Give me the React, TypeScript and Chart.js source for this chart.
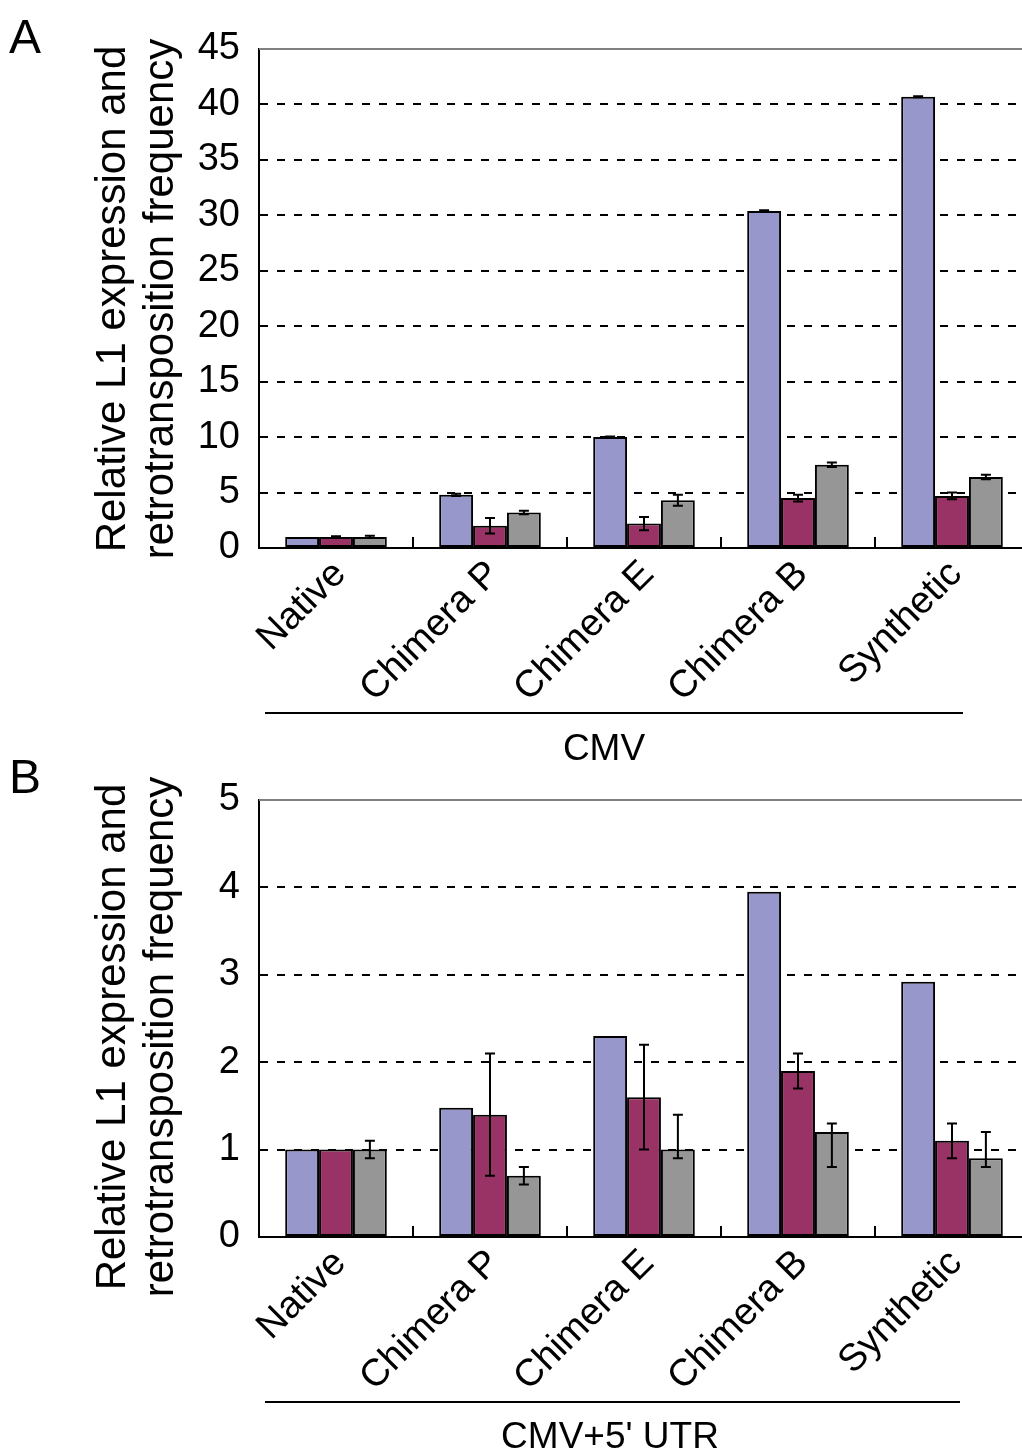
import React, { useEffect, useRef } from "react";
import { Chart, registerables } from "chart.js";

Chart.register(...registerables);

const FONT = "'Liberation Sans', Arial, Helvetica, sans-serif";

// ---------- data ----------
const categories = ["Native", "Chimera P", "Chimera E", "Chimera B", "Synthetic"];
const seriesLabels = ["Series 1", "Series 2", "Series 3"];
const seriesColors = ["#9797CB", "#993366", "#969696"];

// Panel A (CMV)
const aBlue = [1, 4.8, 10, 30.4, 40.7];
const aRed = [1, 2.0, 2.2, 4.5, 4.7];
const aGray = [1, 3.2, 4.3, 7.5, 6.4];
const aBlueErr = [0, 0.1, 0.05, 0.05, 0.05];
const aRedErr = [0.05, 0.7, 0.6, 0.3, 0.3];
const aGrayErr = [0.1, 0.15, 0.5, 0.2, 0.2];
const aTicks = [0, 5, 10, 15, 20, 25, 30, 35, 40, 45];

// Panel B (CMV+5' UTR)
const bBlue = [1, 1.48, 2.3, 3.95, 2.92];
const bRed = [1, 1.4, 1.6, 1.9, 1.1];
const bGray = [1, 0.7, 1.0, 1.2, 0.9];
const bBlueErrPlus = [0, 0, 0, 0, 0];
const bBlueErrMinus = [0, 0, 0, 0, 0];
const bRedErrPlus = [0, 0.7, 0.6, 0.2, 0.2];
const bRedErrMinus = [0, 0.7, 0.6, 0.2, 0.2];
const bGrayErrPlus = [0.1, 0.1, 0.4, 0.1, 0.3];
const bGrayErrMinus = [0.1, 0.1, 0.1, 0.4, 0.1];
const bTicks = [0, 1, 2, 3, 4, 5];

const yTitleLines = ["Relative L1 expression and", "retrotransposition frequency"];

type PanelCfg = {
  top: number;
  height: number;
  letter: string;
  groupLabel: string;
  values: number[][];
  errPlus: number[][];
  errMinus: number[][];
  ticks: number[];
  padTop: number;
  xAxisHeight: number;
  titleCenterY: number;
  underlineY: number;
  underlineX: [number, number];
  labelX: number;
  labelY: number;
  z: number;
};

const panels: PanelCfg[] = [
  {
    top: 0,
    height: 775,
    letter: "A",
    groupLabel: "CMV",
    values: [aBlue, aRed, aGray],
    errPlus: [aBlueErr, aRedErr, aGrayErr],
    errMinus: [aBlueErr, aRedErr, aGrayErr],
    ticks: aTicks,
    padTop: 49,
    xAxisHeight: 775 - 548,
    titleCenterY: 299,
    underlineY: 713,
    underlineX: [265, 963],
    labelX: 604,
    labelY: 760,
    z: 1,
  },
  {
    top: 740,
    height: 713,
    letter: "B",
    groupLabel: "CMV+5' UTR",
    values: [bBlue, bRed, bGray],
    errPlus: [bBlueErrPlus, bRedErrPlus, bGrayErrPlus],
    errMinus: [bBlueErrMinus, bRedErrMinus, bGrayErrMinus],
    ticks: bTicks,
    padTop: 60,
    xAxisHeight: 216,
    titleCenterY: 297,
    underlineY: 662,
    underlineX: [265, 960],
    labelX: 610,
    labelY: 708,
    z: 2,
  },
];

const CANVAS_W = 1040;

function makeDecor(cfg: PanelCfg) {
  return {
    id: "decor" + cfg.letter,
    afterDatasetsDraw(chart: any) {
      const ctx = chart.ctx;
      const y = chart.scales.y;
      ctx.save();
      ctx.strokeStyle = "#000";
      ctx.lineWidth = 2;
      chart.data.datasets.forEach((ds: any, d: number) => {
        const meta = chart.getDatasetMeta(d);
        meta.data.forEach((el: any, i: number) => {
          const v = ds.data[i];
          const p = cfg.errPlus[d][i];
          const m = cfg.errMinus[d][i];
          if (!p && !m) return;
          const yt = y.getPixelForValue(v + p);
          const yb = y.getPixelForValue(v - m);
          const x = el.x;
          ctx.beginPath();
          ctx.moveTo(x, yt);
          ctx.lineTo(x, yb);
          ctx.moveTo(x - 5, yt);
          ctx.lineTo(x + 5, yt);
          ctx.moveTo(x - 5, yb);
          ctx.lineTo(x + 5, yb);
          ctx.stroke();
        });
      });
      ctx.restore();
    },
    afterDraw(chart: any) {
      const ctx = chart.ctx;
      const area = chart.chartArea;
      const xs = chart.scales.x;
      ctx.save();
      // top frame line
      ctx.strokeStyle = "#808080";
      ctx.lineWidth = 2;
      ctx.beginPath();
      ctx.moveTo(area.left, area.top);
      ctx.lineTo(area.right + 20, area.top);
      ctx.stroke();
      // inner tick marks at category boundaries
      ctx.strokeStyle = "#000";
      ctx.lineWidth = 2;
      for (let i = 0; i < categories.length - 1; i++) {
        const bx = (xs.getPixelForValue(i) + xs.getPixelForValue(i + 1)) / 2;
        ctx.beginPath();
        ctx.moveTo(bx, area.bottom);
        ctx.lineTo(bx, area.bottom - 11);
        ctx.stroke();
      }
      // y-axis title (two lines, rotated)
      ctx.fillStyle = "#000";
      ctx.font = `42px ${FONT}`;
      ctx.textAlign = "center";
      ctx.textBaseline = "middle";
      const xsTitle = [113, 161];
      yTitleLines.forEach((line, k) => {
        ctx.save();
        ctx.translate(xsTitle[k], cfg.titleCenterY);
        ctx.rotate(-Math.PI / 2);
        ctx.fillText(line, 0, 0);
        ctx.restore();
      });
      // panel letter
      ctx.font = `48px ${FONT}`;
      ctx.textAlign = "left";
      ctx.textBaseline = "alphabetic";
      ctx.fillText(cfg.letter, 9, 53);
      // group underline and label
      ctx.beginPath();
      ctx.moveTo(cfg.underlineX[0], cfg.underlineY);
      ctx.lineTo(cfg.underlineX[1], cfg.underlineY);
      ctx.stroke();
      ctx.font = `37px ${FONT}`;
      ctx.textAlign = "center";
      ctx.fillText(cfg.groupLabel, cfg.labelX, cfg.labelY);
      ctx.restore();
    },
  };
}

function Panel({ cfg }: { cfg: PanelCfg }) {
  const ref = useRef<HTMLCanvasElement | null>(null);
  useEffect(() => {
    const canvas = ref.current;
    if (!canvas) return;
    const maxV = cfg.ticks[cfg.ticks.length - 1];
    const chart = new Chart(canvas, {
      type: "bar",
      data: {
        labels: categories,
        datasets: cfg.values.map((vals, d) => ({
          label: seriesLabels[d],
          data: vals,
          backgroundColor: seriesColors[d],
          borderColor: "#000",
          borderWidth: 2,
          borderSkipped: false,
          categoryPercentage: 0.66,
          barPercentage: 1.0,
        })),
      },
      options: {
        responsive: false,
        animation: false,
        devicePixelRatio: 1,
        layout: { padding: { left: 0, right: 11, top: cfg.padTop, bottom: 0 } },
        plugins: {
          legend: { display: false },
          tooltip: { enabled: false },
          title: { display: false },
        },
        scales: {
          x: {
            type: "category",
            offset: true,
            grid: { display: false, drawTicks: false },
            border: { display: true, color: "#000", width: 2 },
            ticks: {
              color: "#000",
              font: { family: FONT, size: 38 },
              minRotation: 45,
              maxRotation: 45,
              autoSkip: false,
              padding: 4,
              labelOffset: 4,
            },
            afterFit: (s: any) => {
              s.height = cfg.xAxisHeight;
            },
          },
          y: {
            min: 0,
            max: maxV,
            afterBuildTicks: (s: any) => {
              s.ticks = cfg.ticks.map((v) => ({ value: v }));
            },
            grid: {
              drawTicks: false,
              lineWidth: 2,
              color: (c: any) =>
                c.tick && (c.tick.value === 0 || c.tick.value === maxV) ? "rgba(0,0,0,0)" : "#000",
            },
            border: { display: true, color: "#000", width: 2, dash: [8, 9] },
            ticks: {
              color: "#000",
              font: { family: FONT, size: 38 },
              padding: 19,
            },
            afterFit: (s: any) => {
              s.width = 259;
            },
          },
        },
      },
      plugins: [makeDecor(cfg)],
    } as any);
    return () => chart.destroy();
  }, [cfg]);
  return (
    <div
      style={{
        position: "absolute",
        left: 0,
        top: cfg.top,
        width: CANVAS_W,
        height: cfg.height,
        zIndex: cfg.z,
      }}
    >
      <canvas
        ref={ref}
        width={CANVAS_W}
        height={cfg.height}
        style={{ width: CANVAS_W, height: cfg.height, display: "block" }}
      />
    </div>
  );
}

export default function App() {
  return (
    <div
      style={{
        position: "absolute",
        left: 0,
        top: 0,
        width: 1022,
        height: 1453,
        overflow: "hidden",
        background: "#fff",
      }}
    >
      {panels.map((p) => (
        <Panel key={p.letter} cfg={p} />
      ))}
    </div>
  );
}
